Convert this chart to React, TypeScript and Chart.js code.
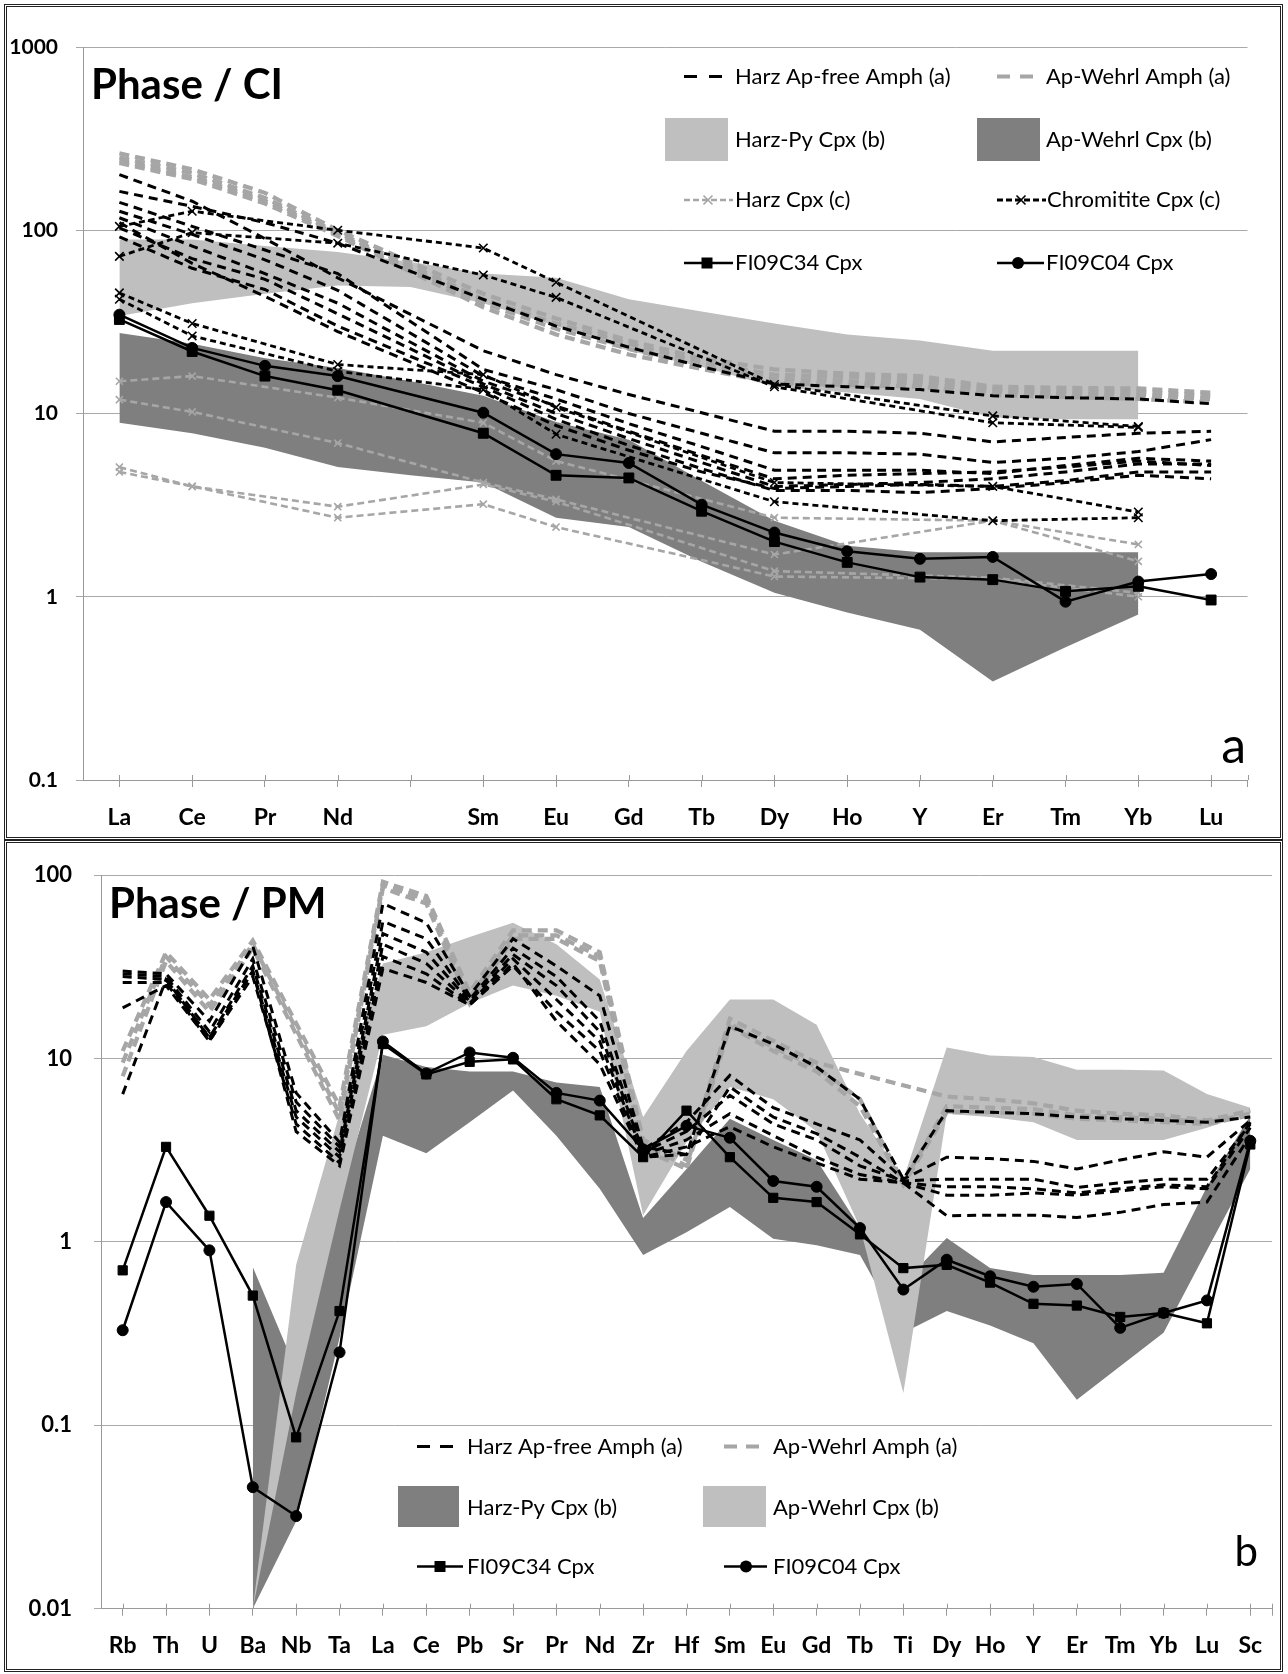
import React, { useEffect, useRef } from 'react';
import { Chart, registerables } from 'chart.js';

Chart.register(...registerables);

type Num = number | null;

const FONT = 'Lato, "Open Sans", "DejaVu Sans", sans-serif';
const BLACK = '#000000';
const GRAY_LINE = '#a6a6a6';
const LIGHT_FILL = '#bfbfbf';
const DARK_FILL = '#7f7f7f';
const GRID = '#a9a9a9';

// ================= Panel a : Phase / CI (REE) =================
const A_LABELS = ['La', 'Ce', 'Pr', 'Nd', '', 'Sm', 'Eu', 'Gd', 'Tb', 'Dy', 'Ho', 'Y', 'Er', 'Tm', 'Yb', 'Lu'];
const A_Y_TICKS = [0.1, 1, 10, 100, 1000];

// Harz Ap-free Amph (a)
const A_HARZ_AMPH_1: Num[] = [201, 144, 90, 55, null, 22, 16.3, 12.7, 10.1, 8.0, 8.0, 7.8, 7.0, 7.4, 7.8, 8.0];
const A_HARZ_AMPH_2: Num[] = [163, 135, 110, 85, null, 42, 30, 23, 18, 14.5, 14, 13.5, 12.5, 12.2, 12, 11.3];
const A_HARZ_AMPH_3: Num[] = [142, 105, 78, 58, null, 17.4, 13.5, 10, 7.8, 6.1, 6.1, 6.0, 5.4, 5.7, 6.2, 7.2];
const A_HARZ_AMPH_4: Num[] = [127, 95, 69, 47, null, 16, 12, 8.8, 6.6, 4.9, 4.9, 4.9, 4.7, 5.2, 5.7, 5.5];
const A_HARZ_AMPH_5: Num[] = [117, 82, 58, 40, null, 15, 11, 8.0, 5.9, 4.4, 4.6, 4.7, 4.8, 5.1, 5.5, 5.2];
const A_HARZ_AMPH_6: Num[] = [103, 70, 54, 35, null, 14.5, 10, 7.3, 5.4, 4.0, 4.1, 4.2, 4.4, 4.8, 5.3, 5.3];
const A_HARZ_AMPH_7: Num[] = [92, 62, 47.5, 30, null, 14, 9.3, 6.7, 5.0, 3.8, 3.8, 3.7, 3.9, 4.2, 4.6, 4.4];
const A_HARZ_AMPH_8: Num[] = [110, 66, 43.6, 28, null, 13, 8.6, 6.3, 4.8, 3.9, 4.0, 4.1, 4.0, 4.3, 4.8, 4.8];

// Ap-Wehrl Amph (a)
const A_WEHRL_AMPH_1: Num[] = [263, 215, 160, 100, null, 45, 33, 25, 20, 17.4, 16.5, 16, 14, 13.8, 13.7, 13];
const A_WEHRL_AMPH_2: Num[] = [250, 205, 150, 97, null, 42, 31, 24, 19, 16.3, 15.8, 15.3, 13.6, 13.2, 13.2, 12.5];
const A_WEHRL_AMPH_3: Num[] = [240, 195, 145, 95, null, 40, 29, 22.5, 18, 15.5, 15, 14.6, 13.2, 12.8, 12.6, 12];
const A_WEHRL_AMPH_4: Num[] = [233, 190, 140, 93, null, 38, 27, 21, 17.5, 14.7, 14.3, 14, 12.6, 12.3, 12, 11.5];

// Harz-Py Cpx (b) range (light)
const A_HARZPY_CPX_HI: Num[] = [89, 89, 82, 76, 67, 58, 55, 42, 36, 31, 27, 25, 22, 22, 22, null];
const A_HARZPY_CPX_LO: Num[] = [34, 40, 45, 50, 49, 40, 30, 22, 18, 14, 13, 12, 9.5, 9.3, 9.3, null];

// Ap-Wehrl Cpx (b) range (dark)
const A_WEHRL_CPX_HI: Num[] = [27.5, 24, 20, 17.7, 15, 12.5, 9, 7.2, 4.3, 2.6, 1.9, 1.75, 1.75, 1.75, 1.75, null];
const A_WEHRL_CPX_LO: Num[] = [8.9, 7.8, 6.5, 5.1, 4.6, 4.2, 2.7, 2.4, 1.55, 1.05, 0.82, 0.66, 0.345, 0.53, 0.8, null];

// Harz Cpx (c)
const A_HARZ_CPX_1: Num[] = [15, 16, null, 12.2, null, 8.9, 5.5, null, null, 2.7, null, null, 2.6, null, 1.93, null];
const A_HARZ_CPX_2: Num[] = [11.9, 10.2, null, 6.9, null, 4.2, 3.4, null, null, 1.7, null, null, 2.6, null, 1.56, null];
const A_HARZ_CPX_3: Num[] = [5.1, 4.0, null, 3.1, null, 4.1, 3.3, null, null, 1.38, null, null, 1.27, null, 1.05, null];
const A_HARZ_CPX_4: Num[] = [4.8, 4.0, null, 2.7, null, 3.2, 2.4, null, null, 1.29, null, null, 1.25, null, 1.0, null];

// Chromitite Cpx (c)
const A_CHROM_CPX_1: Num[] = [105, 127, null, 100, null, 80, 52, null, null, 14.4, null, null, 9.7, null, 8.5, null];
const A_CHROM_CPX_2: Num[] = [72, 97, null, 85, null, 57, 43, null, null, 14.0, null, null, 8.9, null, 8.4, null];
const A_CHROM_CPX_3: Num[] = [45.5, 31, null, 18.5, null, 16.3, 10.8, null, null, 4.2, null, null, 4.0, null, 2.9, null];
const A_CHROM_CPX_4: Num[] = [42, 26.5, null, 17, null, 13.5, 7.7, null, null, 3.3, null, null, 2.6, null, 2.7, null];

// Samples
const A_FI09C34: Num[] = [32.6, 21.8, 16.0, 13.4, null, 7.8, 4.6, 4.45, 2.93, 2.0, 1.54, 1.28, 1.24, 1.07, 1.14, 0.96];
const A_FI09C04: Num[] = [34.6, 22.8, 18.2, 16.0, null, 10.1, 6.0, 5.37, 3.18, 2.24, 1.77, 1.61, 1.65, 0.94, 1.21, 1.33];

// ================= Panel b : Phase / PM =================
const B_LABELS = ['Rb', 'Th', 'U', 'Ba', 'Nb', 'Ta', 'La', 'Ce', 'Pb', 'Sr', 'Pr', 'Nd', 'Zr', 'Hf', 'Sm', 'Eu', 'Gd', 'Tb', 'Ti', 'Dy', 'Ho', 'Y', 'Er', 'Tm', 'Yb', 'Lu', 'Sc'];
const B_Y_TICKS = [0.01, 0.1, 1, 10, 100];

// Harz Ap-free Amph (a)
const B_HARZ_AMPH_1: Num[] = [30, 29, 16, 41, 6.5, 3.5, 70, 55, 22, 45, 32, 22, 3.3, 3.0, 15, 12, 9, 6, 2.2, 5.2, 5.1, 5.0, 4.8, 4.7, 4.6, 4.5, 4.8];
const B_HARZ_AMPH_2: Num[] = [29, 28, 14, 35, 5.8, 3.3, 56, 45, 21, 40, 28, 16, 3.2, 4.5, 8.1, 5.4, 4.4, 3.6, 2.2, 2.9, 2.85, 2.75, 2.5, 2.8, 3.1, 2.9, 4.6];
const B_HARZ_AMPH_3: Num[] = [28, 27, 13, 32, 5.2, 3.1, 48, 38, 20.5, 37, 25, 14, 3.1, 4.0, 6.3, 4.4, 3.6, 2.6, 2.15, 2.2, 2.2, 2.2, 1.98, 2.1, 2.2, 2.2, 4.4];
const B_HARZ_AMPH_4: Num[] = [26, 26, 12.4, 30, 4.8, 2.9, 42, 33, 20, 35, 21, 12.4, 3.0, 3.6, 5.0, 3.8, 2.9, 2.33, 2.1, 1.8, 1.8, 1.85, 1.8, 1.9, 2.0, 1.95, 4.2];
const B_HARZ_AMPH_5: Num[] = [18.9, 25, 12.5, 28, 4.4, 2.7, 36, 29, 19.6, 32, 18, 11, 2.9, 3.3, 4.25, 3.3, 2.7, 2.2, 2.1, 1.39, 1.4, 1.4, 1.36, 1.45, 1.6, 1.65, 3.8];
const B_HARZ_AMPH_6: Num[] = [6.4, 27, 13, 30, 4.0, 2.6, 31, 26, 19.6, 33, 16, 9.3, 2.9, 3.0, 7.0, 4.8, 3.9, 2.9, 2.1, 2.0, 2.0, 1.95, 1.85, 1.95, 2.05, 2.0, 4.5];

// Ap-Wehrl Amph (a)
const B_WEHRL_AMPH_1: Num[] = [11, 38, 21, 44, null, 5.5, 92, 77, 23, 50, 50, 38, 3.6, 2.8, 16.5, 12.5, 9.5, null, null, 6.2, 6.0, 5.7, 5.2, 5.0, 4.9, 4.6, 5.2];
const B_WEHRL_AMPH_2: Num[] = [9.5, 36, 19.5, 42, null, 5.0, 88, 74, 21.5, 47, 47, 36, 3.4, 2.6, 15.5, 11.5, 9.0, 6.0, 2.1, 5.5, 5.4, 5.3, 4.9, 4.8, 4.7, 4.5, 5.0];
const B_WEHRL_AMPH_3: Num[] = [8, 34, 18, 40, null, 4.6, 85, 70, 20, 45, 45, 34, 3.2, 2.5, 15, 11, 8.5, 5.5, 2.05, 5.1, 5.1, 5.0, 4.7, 4.6, 4.5, 4.4, 4.9];

// Harz-Py Cpx (b) range (dark in this panel)
const B_HARZPY_CPX_HI: Num[] = [null, null, null, 0.73, 0.2, 1.8, 10.5, 9.0, 8.5, 8.5, 7.4, 7.0, 1.35, 2.5, 4.7, 3.6, 2.8, 1.2, 0.6, 1.05, 0.72, 0.66, 0.66, 0.66, 0.68, 2.0, 4.9];
const B_HARZPY_CPX_LO: Num[] = [null, null, null, 0.01, 0.03, 0.3, 3.8, 3.05, 4.5, 6.7, 3.8, 1.95, 0.85, 1.13, 1.55, 1.04, 0.96, 0.85, 0.32, 0.42, 0.35, 0.28, 0.138, 0.21, 0.32, 0.9, 2.5];

// Ap-Wehrl Cpx (b) range (light in this panel)
const B_WEHRL_CPX_HI: Num[] = [null, null, null, 0.01, 0.75, 5.0, 33, 38, 46, 55, 42, 27, 4.8, 11, 21, 21, 15.3, 5, 2.2, 11.5, 10.4, 10.2, 8.7, 8.7, 8.6, 6.4, 5.4];
const B_WEHRL_CPX_LO: Num[] = [null, null, null, 0.01, 0.15, 1.5, 13.5, 15, 20, 25, 22, 18, 1.4, 3.5, 7, 6, 4, 1.2, 0.15, 5.0, 4.8, 4.5, 3.6, 3.6, 3.6, 4.2, 5.0];

// Samples
const B_FI09C34: Num[] = [0.70, 3.3, 1.39, 0.51, 0.086, 0.42, 12, 8.2, 9.6, 9.9, 6.0, 4.9, 2.9, 5.2, 2.9, 1.74, 1.65, 1.1, 0.72, 0.75, 0.6, 0.46, 0.45, 0.39, 0.41, 0.36, 3.4];
const B_FI09C04: Num[] = [0.33, 1.65, 0.9, 0.046, 0.032, 0.25, 12.4, 8.3, 10.8, 10.1, 6.5, 5.9, 3.2, 4.3, 3.7, 2.15, 2.0, 1.19, 0.55, 0.8, 0.65, 0.57, 0.59, 0.34, 0.41, 0.48, 3.56];

// ================= helpers =================
const pts = (arr: Num[]) => arr.flatMap((v, i) => (v == null ? [] : [{ x: i, y: v }]));

const STYLE_HARZ_AMPH = { borderColor: BLACK, borderWidth: 3, borderDash: [9, 6], pointRadius: 0, fill: false };
const STYLE_WEHRL_AMPH = { borderColor: GRAY_LINE, borderWidth: 4.2, borderDash: [10, 6], pointRadius: 0, fill: false };
const STYLE_HARZ_CPX = {
  borderColor: GRAY_LINE, borderWidth: 2.6, borderDash: [7, 4], fill: false,
  pointStyle: 'crossRot', pointRadius: 5, pointBorderColor: GRAY_LINE, pointBackgroundColor: GRAY_LINE, pointBorderWidth: 1.6,
};
const STYLE_CHROM_CPX = {
  borderColor: BLACK, borderWidth: 2.8, borderDash: [6, 4], fill: false,
  pointStyle: 'crossRot', pointRadius: 6, pointBorderColor: BLACK, pointBackgroundColor: BLACK, pointBorderWidth: 1.6,
};
const STYLE_SQ = {
  borderColor: BLACK, borderWidth: 2.5, fill: false,
  pointStyle: 'rect', pointRadius: 7, pointBorderColor: BLACK, pointBackgroundColor: BLACK, pointBorderWidth: 1,
};
const STYLE_CI = {
  borderColor: BLACK, borderWidth: 2.5, fill: false,
  pointStyle: 'circle', pointRadius: 5.5, pointBorderColor: BLACK, pointBackgroundColor: BLACK, pointBorderWidth: 1,
};

function lineSets(label: string, arrs: Num[][], style: any) {
  return arrs.map((a, k) => ({ label: `${label} ${k + 1}`, data: pts(a), ...style }));
}

function bandSets(label: string, hi: Num[], lo: Num[], color: string) {
  return [
    { label: `${label} max`, data: pts(hi), fill: '+1', backgroundColor: color, borderColor: 'rgba(0,0,0,0)', borderWidth: 0, pointRadius: 0 },
    { label: `${label} min`, data: pts(lo), fill: false, borderColor: 'rgba(0,0,0,0)', borderWidth: 0, pointRadius: 0 },
  ];
}

function xAxis(labels: string[], height: number, pad: number) {
  const n = labels.length;
  return {
    type: 'linear',
    min: -0.5,
    max: n - 0.5,
    afterBuildTicks: (s: any) => {
      const t = labels.map((_, i) => ({ value: i }));
      t.push({ value: n - 0.5 });
      s.ticks = t;
    },
    afterFit: (s: any) => { s.height = height; },
    ticks: {
      autoSkip: false, maxRotation: 0, minRotation: 0, padding: pad, color: BLACK,
      font: { family: FONT, size: 23, weight: 'bold' },
      callback: (v: number) => (Number.isInteger(v) ? labels[v] : ''),
    },
    grid: { drawOnChartArea: false, drawTicks: true, tickLength: 7, color: '#999999', lineWidth: 1 },
    border: { display: true, color: '#999999', width: 1 },
  };
}

function yAxis(min: number, max: number, values: number[], width: number, pad: number, size: number) {
  return {
    type: 'logarithmic',
    min, max,
    afterBuildTicks: (s: any) => { s.ticks = values.map((v) => ({ value: v })); },
    afterFit: (s: any) => { s.width = width; },
    ticks: { padding: pad, color: BLACK, font: { family: FONT, size, weight: 'bold' }, callback: (v: number) => String(v) },
    grid: { color: GRID, lineWidth: 1, tickLength: 7, drawTicks: true },
    border: { display: true, color: '#999999', width: 1 },
  };
}

function drawMarker(ctx: CanvasRenderingContext2D, kind: string, x: number, y: number, color: string) {
  ctx.save();
  ctx.setLineDash([]);
  if (kind === 'x') {
    const r = 4.5;
    ctx.strokeStyle = color; ctx.lineWidth = 1.6;
    ctx.beginPath();
    ctx.moveTo(x - r, y - r); ctx.lineTo(x + r, y + r);
    ctx.moveTo(x - r, y + r); ctx.lineTo(x + r, y - r);
    ctx.stroke();
  } else if (kind === 'square') {
    ctx.fillStyle = color; ctx.fillRect(x - 5.5, y - 5.5, 11, 11);
  } else if (kind === 'circle') {
    ctx.fillStyle = color; ctx.beginPath(); ctx.arc(x, y, 6, 0, Math.PI * 2); ctx.fill();
  }
  ctx.restore();
}

function makeDecor(cfg: any) {
  return {
    id: 'decor',
    afterDraw(chart: any) {
      const ctx: CanvasRenderingContext2D = chart.ctx;
      ctx.save();
      // upward half of the x tick marks (ticks cross the axis)
      const xs = chart.scales.x;
      ctx.strokeStyle = '#999999';
      ctx.lineWidth = 1;
      ctx.beginPath();
      for (const t of xs.ticks) {
        const px = Math.round(xs.getPixelForValue(t.value)) + 0.5;
        ctx.moveTo(px, chart.chartArea.bottom - 5);
        ctx.lineTo(px, chart.chartArea.bottom);
      }
      ctx.stroke();

      ctx.fillStyle = BLACK;
      ctx.textAlign = 'left';
      ctx.textBaseline = 'alphabetic';
      ctx.font = `bold ${cfg.title.size}px ${FONT}`;
      ctx.fillText(cfg.title.text, cfg.title.x, cfg.title.y);
      ctx.font = `${cfg.letter.size}px ${FONT}`;
      ctx.textAlign = 'right';
      ctx.fillText(cfg.letter.text, cfg.letter.x, cfg.letter.y);
      for (const it of cfg.items) {
        const s = it.sample;
        if (s.type === 'rect') {
          ctx.fillStyle = s.color;
          ctx.fillRect(s.x, s.y, s.w, s.h);
        } else {
          ctx.save();
          ctx.strokeStyle = s.color;
          ctx.lineWidth = s.width;
          ctx.setLineDash(s.dash || []);
          ctx.beginPath();
          ctx.moveTo(s.x1, s.y);
          ctx.lineTo(s.x2, s.y);
          ctx.stroke();
          ctx.restore();
          if (s.marker) drawMarker(ctx, s.marker, s.mx, s.y, s.color);
        }
        ctx.fillStyle = BLACK;
        ctx.font = `22px ${FONT}`;
        ctx.textAlign = 'left';
        ctx.textBaseline = 'middle';
        ctx.fillText(it.text, it.tx, it.ty);
      }
      ctx.restore();
    },
  };
}

function baseOptions(padding: any, x: any, y: any) {
  return {
    responsive: false,
    animation: false,
    devicePixelRatio: 1,
    events: [],
    layout: { padding },
    elements: { line: { tension: 0 } },
    plugins: {
      legend: { display: false },
      tooltip: { enabled: false },
      filler: { drawTime: 'beforeDatasetsDraw' },
    },
    scales: { x, y },
  };
}

function configA() {
  const datasets = [
    { label: 'FI09C34 Cpx', data: pts(A_FI09C34), ...STYLE_SQ },
    { label: 'FI09C04 Cpx', data: pts(A_FI09C04), ...STYLE_CI },
    ...lineSets('Chromitite Cpx (c)', [A_CHROM_CPX_1, A_CHROM_CPX_2, A_CHROM_CPX_3, A_CHROM_CPX_4], STYLE_CHROM_CPX),
    ...lineSets('Harz Cpx (c)', [A_HARZ_CPX_1, A_HARZ_CPX_2, A_HARZ_CPX_3, A_HARZ_CPX_4], STYLE_HARZ_CPX),
    ...lineSets('Harz Ap-free Amph (a)', [A_HARZ_AMPH_1, A_HARZ_AMPH_2, A_HARZ_AMPH_3, A_HARZ_AMPH_4, A_HARZ_AMPH_5, A_HARZ_AMPH_6, A_HARZ_AMPH_7, A_HARZ_AMPH_8], STYLE_HARZ_AMPH),
    ...lineSets('Ap-Wehrl Amph (a)', [A_WEHRL_AMPH_1, A_WEHRL_AMPH_2, A_WEHRL_AMPH_3, A_WEHRL_AMPH_4], STYLE_WEHRL_AMPH),
    ...bandSets('Harz-Py Cpx (b)', A_HARZPY_CPX_HI, A_HARZPY_CPX_LO, LIGHT_FILL),
    ...bandSets('Ap-Wehrl Cpx (b)', A_WEHRL_CPX_HI, A_WEHRL_CPX_LO, DARK_FILL),
  ];
  const decor = makeDecor({
    title: { text: 'Phase / CI', x: 91, y: 99, size: 42 },
    letter: { text: 'a', x: 1246, y: 763, size: 50 },
    items: [
      { sample: { type: 'line', x1: 684, x2: 722, y: 76.5, color: BLACK, width: 3, dash: [13, 12] }, text: 'Harz Ap-free Amph (a)', tx: 735, ty: 76.5 },
      { sample: { type: 'line', x1: 997, x2: 1033, y: 76.5, color: GRAY_LINE, width: 4, dash: [13, 10] }, text: 'Ap-Wehrl Amph (a)', tx: 1046, ty: 76.5 },
      { sample: { type: 'rect', x: 665, y: 118, w: 63, h: 43, color: LIGHT_FILL }, text: 'Harz-Py Cpx (b)', tx: 735, ty: 140 },
      { sample: { type: 'rect', x: 977, y: 118, w: 63, h: 43, color: DARK_FILL }, text: 'Ap-Wehrl Cpx (b)', tx: 1046, ty: 140 },
      { sample: { type: 'line', x1: 684, x2: 733, y: 200, color: GRAY_LINE, width: 2.6, dash: [6, 3], marker: 'x', mx: 708 }, text: 'Harz Cpx (c)', tx: 735, ty: 200 },
      { sample: { type: 'line', x1: 997, x2: 1046, y: 200, color: BLACK, width: 2.8, dash: [6, 3], marker: 'x', mx: 1021 }, text: 'Chromitite Cpx (c)', tx: 1047, ty: 200 },
      { sample: { type: 'line', x1: 684, x2: 733, y: 263, color: BLACK, width: 2.5, marker: 'square', mx: 707 }, text: 'FI09C34 Cpx', tx: 735, ty: 263 },
      { sample: { type: 'line', x1: 997, x2: 1044, y: 263, color: BLACK, width: 2.5, marker: 'circle', mx: 1018 }, text: 'FI09C04 Cpx', tx: 1046, ty: 263 },
    ],
  });
  return {
    type: 'line',
    data: { datasets },
    options: baseOptions({ left: 0, top: 47, right: 40.5, bottom: 0 }, xAxis(A_LABELS, 60, 17), yAxis(0.1, 1000, A_Y_TICKS, 83, 18, 21)),
    plugins: [decor],
  };
}

function configB() {
  const datasets = [
    { label: 'FI09C34 Cpx', data: pts(B_FI09C34), ...STYLE_SQ, pointRadius: 6.5 },
    { label: 'FI09C04 Cpx', data: pts(B_FI09C04), ...STYLE_CI, pointRadius: 5.5 },
    ...lineSets('Harz Ap-free Amph (a)', [B_HARZ_AMPH_1, B_HARZ_AMPH_2, B_HARZ_AMPH_3, B_HARZ_AMPH_4, B_HARZ_AMPH_5, B_HARZ_AMPH_6], STYLE_HARZ_AMPH),
    ...lineSets('Ap-Wehrl Amph (a)', [B_WEHRL_AMPH_1, B_WEHRL_AMPH_2, B_WEHRL_AMPH_3], STYLE_WEHRL_AMPH),
    ...bandSets('Ap-Wehrl Cpx (b)', B_WEHRL_CPX_HI, B_WEHRL_CPX_LO, LIGHT_FILL),
    ...bandSets('Harz-Py Cpx (b)', B_HARZPY_CPX_HI, B_HARZPY_CPX_LO, DARK_FILL),
  ];
  const decor = makeDecor({
    title: { text: 'Phase / PM', x: 109, y: 78, size: 42 },
    letter: { text: 'b', x: 1258, y: 726, size: 42 },
    items: [
      { sample: { type: 'line', x1: 417, x2: 453, y: 606.5, color: BLACK, width: 3, dash: [13, 10] }, text: 'Harz Ap-free Amph (a)', tx: 467, ty: 606.5 },
      { sample: { type: 'line', x1: 724, x2: 759, y: 606.5, color: GRAY_LINE, width: 4, dash: [13, 9] }, text: 'Ap-Wehrl Amph (a)', tx: 773, ty: 606.5 },
      { sample: { type: 'rect', x: 398, y: 646, w: 61, h: 41, color: DARK_FILL }, text: 'Harz-Py Cpx (b)', tx: 467, ty: 668 },
      { sample: { type: 'rect', x: 703, y: 646, w: 63, h: 41, color: LIGHT_FILL }, text: 'Ap-Wehrl Cpx (b)', tx: 773, ty: 668 },
      { sample: { type: 'line', x1: 417, x2: 463, y: 726.5, color: BLACK, width: 2.5, marker: 'square', mx: 440 }, text: 'FI09C34 Cpx', tx: 467, ty: 726.5 },
      { sample: { type: 'line', x1: 724, x2: 767, y: 726.5, color: BLACK, width: 2.5, marker: 'circle', mx: 746 }, text: 'FI09C04 Cpx', tx: 773, ty: 726.5 },
    ],
  });
  return {
    type: 'line',
    data: { datasets },
    options: baseOptions({ left: 0, top: 26, right: 14.5, bottom: 0 }, xAxis(B_LABELS, 65.3, 16), yAxis(0.01, 100, B_Y_TICKS, 101, 22, 22)),
    plugins: [decor],
  };
}

function ChartCanvas({ make, width, height, top }: { make: () => any; width: number; height: number; top: number }) {
  const ref = useRef<HTMLCanvasElement | null>(null);
  useEffect(() => {
    if (!ref.current) return;
    const chart = new Chart(ref.current, make());
    return () => chart.destroy();
  }, []);
  return (
    <canvas
      ref={ref}
      width={width}
      height={height}
      style={{ position: 'absolute', left: 0, top, width, height, display: 'block' }}
    />
  );
}

export default function App() {
  return (
    <div style={{ position: 'absolute', left: 0, top: 0, width: 1288, height: 1674, background: '#ffffff', overflow: 'hidden' }}>
      <div style={{ position: 'absolute', left: 4, top: 4, width: 1279, height: 836, border: '3px double #222', boxSizing: 'border-box' }} />
      <div style={{ position: 'absolute', left: 4, top: 840, width: 1279, height: 832, border: '3px double #222', boxSizing: 'border-box' }} />
      <ChartCanvas make={configA} width={1288} height={840} top={0} />
      <ChartCanvas make={configB} width={1288} height={834} top={840} />
    </div>
  );
}
